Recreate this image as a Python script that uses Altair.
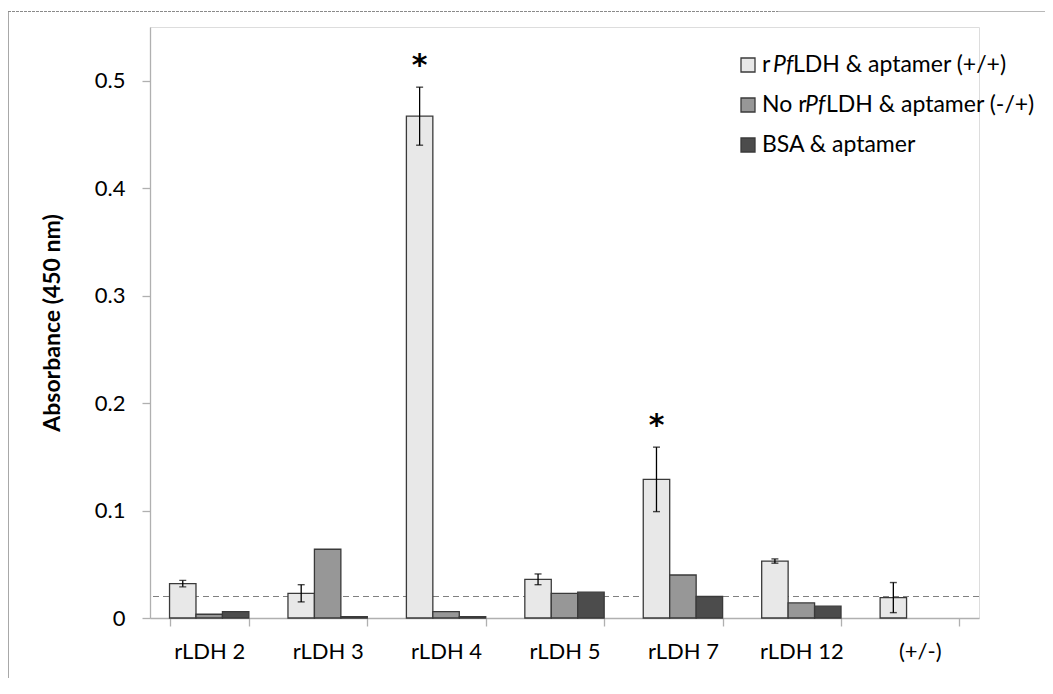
import altair as alt
import pandas as pd

# ---------------- data ----------------
categories = ["rLDH 2", "rLDH 3", "rLDH 4", "rLDH 5", "rLDH 7", "rLDH 12", "(+/-)"]
series = ["pos", "neg", "bsa"]
pos_vals = [0.032, 0.023, 0.467, 0.036, 0.129, 0.053, 0.019]
pos_errs = [0.003, 0.008, 0.027, 0.005, 0.030, 0.002, 0.014]
neg_vals = [0.0035, 0.064, 0.006, 0.023, 0.040, 0.014, None]
bsa_vals = [0.006, 0.0013, 0.0013, 0.024, 0.020, 0.011, None]
star_cats = ["rLDH 4", "rLDH 7"]
threshold = [0.02]
y_ticks = [0, 0.1, 0.2, 0.3, 0.4, 0.5]
colors = ["#e8e8e8", "#979797", "#4c4c4c"]

legend_rows = [
    [("r", "normal"), ("Pf", "italic"), ("LDH & aptamer (+/+)", "normal")],
    [("No r", "normal"), ("Pf", "italic"), ("LDH & aptamer (-/+)", "normal")],
    [("BSA & aptamer", "normal")],
]

FONT = "Lato"

rows = []
for i, c in enumerate(categories):
    for s, vals in zip(series, [pos_vals, neg_vals, bsa_vals]):
        if vals[i] is not None:
            rows.append({"cat": c, "series": s, "value": vals[i]})
bars_df = pd.DataFrame(rows)

err_df = pd.DataFrame({
    "cat": categories,
    "series": ["pos"] * len(categories),
    "lo": [v - e for v, e in zip(pos_vals, pos_errs)],
    "hi": [v + e for v, e in zip(pos_vals, pos_errs)],
})
star_df = err_df[err_df["cat"].isin(star_cats)].copy()
star_df["star"] = "*"
thr_df = pd.DataFrame({"y": threshold})

W, H = 829, 591
YMAX = 0.55

x_enc = alt.X(
    "cat:N", sort=categories,
    scale=alt.Scale(domain=categories, paddingInner=0.33, paddingOuter=0.165),
    axis=alt.Axis(title=None, labelAngle=0, tickBand="extent", tickSize=8,
                  labelPadding=15, labelFontSize=22, labelFont=FONT,
                  labelColor="black", domainColor="#b0b0b0", tickColor="#b0b0b0",
                  domainWidth=1.3, tickWidth=1.3, grid=False),
)
xo_enc = alt.XOffset("series:N", sort=series,
                     scale=alt.Scale(domain=series, paddingInner=0, paddingOuter=0))
y_scale = alt.Scale(domain=[0, YMAX], nice=False)

bars = alt.Chart(bars_df).mark_bar(stroke="#3a3a3a", strokeWidth=1.3).encode(
    x=x_enc,
    xOffset=xo_enc,
    y=alt.Y("value:Q", scale=y_scale,
            axis=alt.Axis(values=y_ticks, title="Absorbance (450 nm)",
                          titleFont=FONT, titleFontSize=23, titleFontWeight="bold",
                          titleColor="black", titleAngle=-90, titleX=-98, titleY=H / 2,
                          titleBaseline="middle", titleAlign="center",
                          labelFont=FONT, labelFontSize=22, labelColor="black",
                          labelPadding=17, tickSize=8, domainColor="#b0b0b0",
                          tickColor="#b0b0b0", domainWidth=1.3, tickWidth=1.3,
                          grid=False, labelExpr="datum.value == 0 ? '0' : format(datum.value, '.1f')")),
    color=alt.Color("series:N", scale=alt.Scale(domain=series, range=colors), legend=None),
)

thr = alt.Chart(thr_df).mark_rule(color="#808080", strokeWidth=1.1, strokeDash=[6, 4]).encode(
    y=alt.Y("y:Q", scale=y_scale)
)

err_rule = alt.Chart(err_df).mark_rule(color="black", strokeWidth=1.3).encode(
    x=x_enc, xOffset=xo_enc,
    y=alt.Y("lo:Q", scale=y_scale), y2="hi:Q",
)
cap_lo = alt.Chart(err_df).mark_tick(color="black", orient="horizontal", size=7, thickness=1.4).encode(
    x=x_enc, xOffset=xo_enc, y=alt.Y("lo:Q", scale=y_scale),
)
cap_hi = alt.Chart(err_df).mark_tick(color="black", orient="horizontal", size=7, thickness=1.4).encode(
    x=x_enc, xOffset=xo_enc, y=alt.Y("hi:Q", scale=y_scale),
)
stars = alt.Chart(star_df).mark_text(font="DejaVu Sans", fontSize=30, fontWeight="bold", color="black",
                                     baseline="alphabetic", dy=-12).encode(
    x=x_enc, xOffset=xo_enc, y=alt.Y("hi:Q", scale=y_scale), text="star:N",
)

# ---------------- manual legend (mixed italic text) ----------------
one = pd.DataFrame({"a": [0]})
leg_layers = []
row_y = [38, 78, 118]
seg_x = [[612, 623, 643], [612, 655, 676], [612]]
for r, segs in enumerate(legend_rows):
    yc = row_y[r]
    leg_layers.append(
        alt.Chart(one).mark_rect(fill=colors[r], stroke="#3a3a3a", strokeWidth=1.3).encode(
            x=alt.value(591), x2=alt.value(605), y=alt.value(yc - 7), y2=alt.value(yc + 7)
        )
    )
    for (txt, style), sx in zip(segs, seg_x[r]):
        leg_layers.append(
            alt.Chart(one).mark_text(text=txt, font=FONT, fontSize=23, fontStyle=style,
                                     align="left", baseline="middle", color="black").encode(
                x=alt.value(sx), y=alt.value(yc)
            )
        )

# ---------------- outer frame ----------------
frame_left = alt.Chart(one).mark_rule(color="#a8a8a8", strokeWidth=1).encode(
    x=alt.value(-141.5), y=alt.value(-15), y2=alt.value(H + 80)
)
frame_top_dash = alt.Chart(one).mark_rule(color="#8a8a8a", strokeWidth=1, strokeDash=[3, 1]).encode(
    x=alt.value(-142), x2=alt.value(628), y=alt.value(-15.5)
)
frame_top = alt.Chart(one).mark_rule(color="#b8b8b8", strokeWidth=1).encode(
    x=alt.value(628), x2=alt.value(W + 80), y=alt.value(-15.5)
)

chart = alt.layer(
    frame_left, frame_top_dash, frame_top,
    thr, bars, err_rule, cap_lo, cap_hi, stars, *leg_layers
).properties(
    width=W, height=H,
    autosize=alt.AutoSizeParams(type="none"),
    padding={"left": 142, "top": 19, "right": 66, "bottom": 60},
).configure_view(stroke=None).configure(background="white")

chart.save("out.html", embed_options={"renderer": "svg", "actions": False})
